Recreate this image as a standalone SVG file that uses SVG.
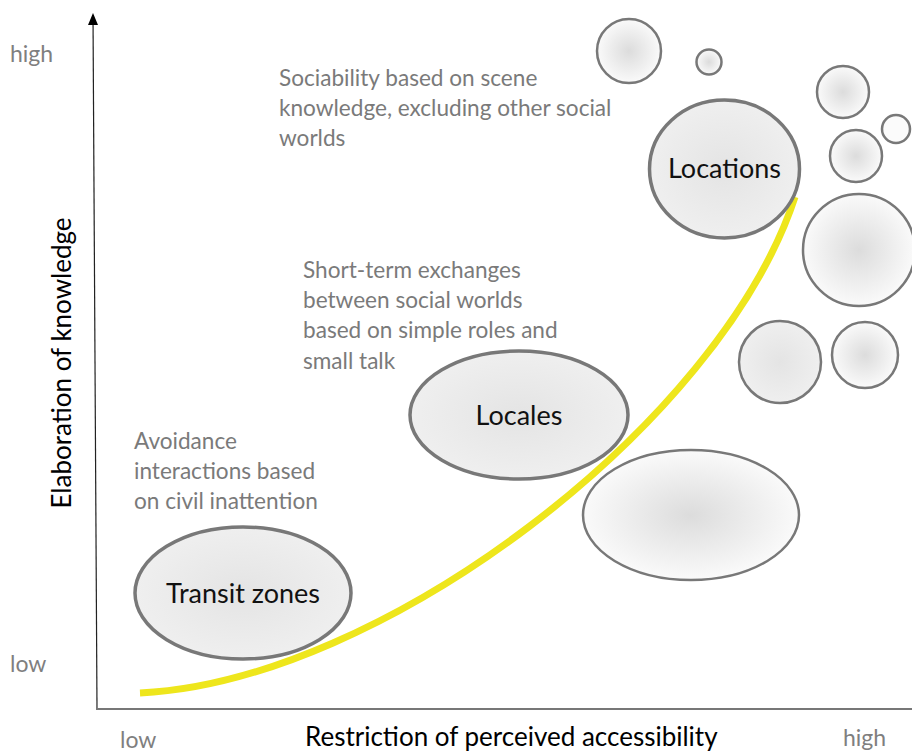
<svg xmlns="http://www.w3.org/2000/svg" width="912" height="753" viewBox="0 0 912 753">
<style>
  .lbl{font-family:Lato,"Open Sans","Liberation Sans",sans-serif;font-size:23px;fill:#7f7f7f}
  .ann{font-family:Lato,"Open Sans","Liberation Sans",sans-serif;font-size:22.6px;fill:#7a7a7a}
  .ttl{font-family:Lato,"Open Sans","Liberation Sans",sans-serif;font-size:26px;fill:#000}
  .node{font-family:Lato,"Open Sans","Liberation Sans",sans-serif;font-size:27px;fill:#111;text-anchor:middle}
  .main{fill:url(#gMain);stroke:#787878;stroke-width:3.5}
  .bub{fill:url(#gBub);stroke:#787878;stroke-width:2.5}
</style>
<defs>
  <radialGradient id="gMain" cx="50%" cy="50%" r="50%">
    <stop offset="0" stop-color="#e4e4e4"/>
    <stop offset="1" stop-color="#efefef"/>
  </radialGradient>
  <radialGradient id="gBub" cx="50%" cy="50%" r="50%">
    <stop offset="0" stop-color="#dcdcdc"/>
    <stop offset="1" stop-color="#fafafa"/>
  </radialGradient>
</defs>
<rect width="912" height="753" fill="#fff"/>

<g id="axes">
  <line x1="97" y1="709" x2="93" y2="15" stroke="#222" stroke-width="1.2"/>
  <path d="M88,25 L93,13 L98,25 Z" fill="#000"/>
  <line x1="96" y1="709" x2="912" y2="709" stroke="#777" stroke-width="2"/>
  <text class="lbl" x="10" y="62">high</text>
  <text class="lbl" x="10" y="672">low</text>
  <text class="lbl" x="120" y="748">low</text>
  <text class="lbl" x="843" y="746">high</text>
  <text class="ttl" x="305" y="746">Restriction of perceived accessibility</text>
  <text class="ttl" transform="translate(71,363) rotate(-90)" text-anchor="middle">Elaboration of knowledge</text>
</g>

<g id="connectors">
  <path d="M140,693 C380,682 720,425 795,197" fill="none" stroke="#eee61c" stroke-width="7"/>
</g>

<g id="bubbles">
  <circle class="bub" cx="629" cy="51" r="32"/>
  <circle class="bub" cx="709" cy="62" r="12.5"/>
  <circle class="bub" cx="843" cy="92" r="26"/>
  <circle class="bub" cx="896" cy="129" r="14" style="fill:#fbfbfb"/>
  <circle class="bub" cx="856" cy="156" r="26"/>
  <circle class="bub" cx="859" cy="250" r="56"/>
  <circle class="bub" cx="780" cy="362" r="41" style="fill:url(#gMain)"/>
  <circle class="bub" cx="865" cy="355" r="33"/>
  <ellipse id="unlabeled" class="bub" cx="691" cy="515" rx="108" ry="65"/>
</g>

<g id="locations">
  <ellipse class="main" cx="724.5" cy="169" rx="75" ry="69"/>
  <text class="node" x="724.5" y="178">Locations</text>
</g>
<g id="locales">
  <ellipse class="main" cx="519" cy="415" rx="109" ry="64"/>
  <text class="node" x="519" y="425">Locales</text>
</g>
<g id="transit">
  <ellipse class="main" cx="243" cy="593" rx="108" ry="66"/>
  <text class="node" x="243" y="603">Transit zones</text>
</g>

<g id="annotations">
  <text class="ann" x="279" y="86">Sociability based on scene</text>
  <text class="ann" x="279" y="116">knowledge, excluding other social</text>
  <text class="ann" x="279" y="146">worlds</text>
  <text class="ann" x="303" y="278">Short-term exchanges</text>
  <text class="ann" x="303" y="308">between social worlds</text>
  <text class="ann" x="303" y="338">based on simple roles and</text>
  <text class="ann" x="303" y="369">small talk</text>
  <text class="ann" x="134" y="449">Avoidance</text>
  <text class="ann" x="134" y="479">interactions based</text>
  <text class="ann" x="134" y="509">on civil inattention</text>
</g>
</svg>
